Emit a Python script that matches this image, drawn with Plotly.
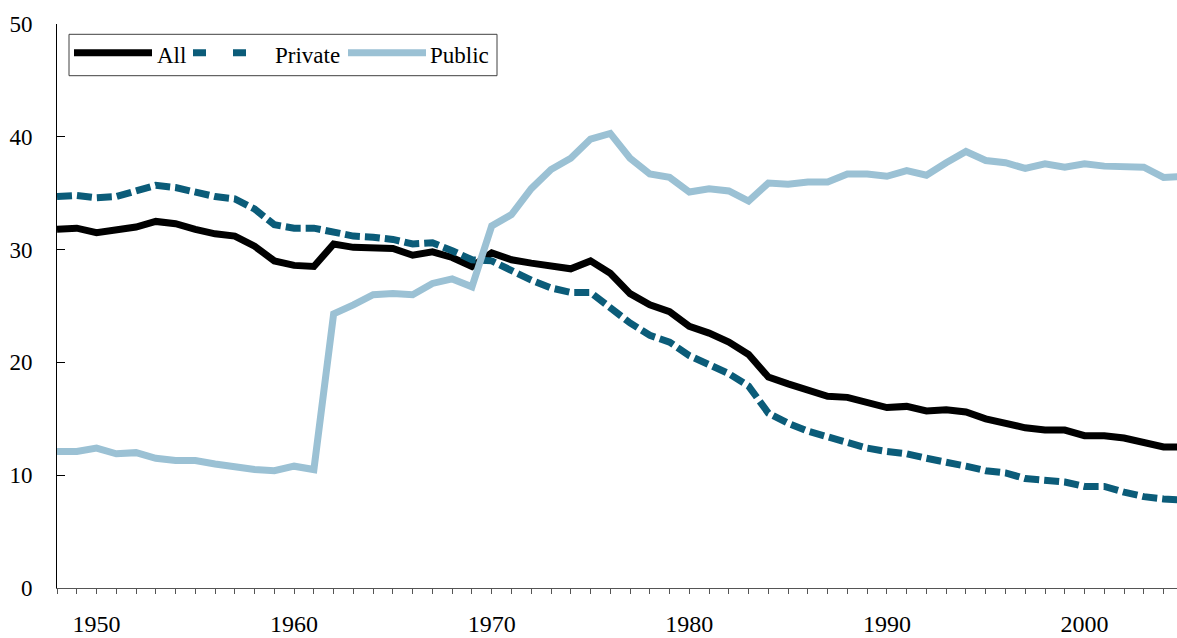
import plotly.graph_objects as go

years = list(range(1948, 2006))

all_share = [31.8, 31.9, 31.5, 31.7, 32.0, 32.5, 32.3, 31.8, 31.4, 31.2, 30.3, 29.0, 28.6, 28.5,
             30.5, 30.2, 30.2, 30.1, 29.5, 29.8, 29.3, 28.5, 29.7, 29.1, 28.8, 28.5, 28.3, 29.0,
             27.9, 26.1, 25.1, 24.5, 23.2, 22.6, 21.8, 20.7, 18.7, 18.1, 17.5, 17.0, 16.9, 16.4,
             16.0, 16.1, 15.7, 15.8, 15.6, 15.0, 14.6, 14.2, 14.0, 14.0, 13.5, 13.5, 13.3, 12.9,
             12.5, 12.5]

private_share = [34.7, 34.8, 34.6, 34.7, 35.2, 35.7, 35.5, 35.1, 34.7, 34.5, 33.6, 32.2, 31.9, 31.9,
                 31.5, 31.2, 31.1, 30.9, 30.5, 30.6, 29.9, 29.1, 29.0, 28.1, 27.3, 26.6, 26.2, 26.2,
                 24.9, 23.5, 22.4, 21.8, 20.6, 19.8, 19.0, 17.9, 15.5, 14.6, 13.9, 13.4, 12.9, 12.4,
                 12.1, 11.9, 11.5, 11.2, 10.8, 10.4, 10.2, 9.7, 9.6, 9.4, 9.0, 9.0, 8.5, 8.1,
                 7.9, 7.8]

public_share = [12.1, 12.1, 12.4, 11.9, 12.0, 11.5, 11.3, 11.3, 11.0, 10.7, 10.5, 10.4, 10.8, 10.5,
                24.3, 25.1, 26.0, 26.1, 26.0, 27.0, 27.4, 26.7, 32.1, 33.1, 35.4, 37.1, 38.1, 39.8,
                40.3, 38.1, 36.7, 36.4, 35.1, 35.4, 35.2, 34.3, 35.9, 35.8, 36.0, 36.0, 36.7, 36.7,
                36.5, 37.0, 36.6, 37.7, 38.7, 37.9, 37.7, 37.2, 37.6, 37.3, 37.6, 37.4, 37.4, 37.3,
                36.4, 36.5]

series_names = ["All", "Private", "Public"]
colors = {"All": "#000000", "Private": "#0B5C79", "Public": "#9BC1D4"}
dashes = {"All": "solid", "Private": "15px,5px", "Public": "solid"}
legend_dashes = {"All": "solid", "Private": "13px,27px", "Public": "solid"}

y_ticks = [0, 10, 20, 30, 40, 50]
x_ticks = [1950, 1960, 1970, 1980, 1990, 2000]

W, H = 1177, 638
ML, MR, MT, MB = 57, 0, 24, 50
PW, PH = W - ML - MR, H - MT - MB

def px_x(p):
    return (p - ML) / PW

def px_y(p):
    return (H - MB - p) / PH

fig = go.Figure()
values = {"All": all_share, "Private": private_share, "Public": public_share}
for name in series_names:
    fig.add_trace(go.Scatter(
        x=years, y=values[name], mode="lines", name=name,
        line=dict(color=colors[name], width=7, dash=dashes[name]),
        showlegend=False, hoverinfo="skip",
    ))

# custom legend (box, samples, labels)
shapes = [dict(type="rect", xref="paper", yref="paper",
               x0=px_x(69), x1=px_x(497), y0=px_y(75.7), y1=px_y(34.3),
               line=dict(color="#404040", width=1), fillcolor="white", layer="above")]
sample_x = {"All": (74, 152), "Private": (193, 271), "Public": (348, 426)}
label_x = {"All": 155, "Private": 273, "Public": 428}
annotations = []
for name in series_names:
    x0, x1 = sample_x[name]
    shapes.append(dict(type="line", xref="paper", yref="paper",
                       x0=px_x(x0), x1=px_x(x1), y0=px_y(52.8), y1=px_y(52.8),
                       line=dict(color=colors[name], width=7, dash=legend_dashes[name]),
                       layer="above"))
    annotations.append(dict(xref="paper", yref="paper", x=px_x(label_x[name]), y=px_y(55.5),
                            text=name, showarrow=False, xanchor="left", yanchor="middle",
                            font=dict(family="Liberation Serif", size=23, color="black")))

fig.update_layout(
    width=W, height=H,
    margin=dict(l=ML, r=MR, t=MT, b=MB),
    paper_bgcolor="white", plot_bgcolor="white",
    font=dict(family="Liberation Serif", size=24, color="black"),
    shapes=shapes, annotations=annotations,
    xaxis=dict(
        range=[1948, 1948 + PW / 19.76],
        tickvals=x_ticks, ticktext=[str(t) for t in x_ticks],
        ticks="outside", ticklen=5, tickcolor="#555555", tickwidth=1,
        minor=dict(ticks="outside", ticklen=5, dtick=1, tick0=1948, tickcolor="#555555"),
        showline=True, linecolor="#555555", linewidth=1,
        showgrid=False, zeroline=False, automargin=False,
        ticklabelstandoff=9,
        tickfont=dict(family="Liberation Serif", size=24, color="black"),
    ),
    yaxis=dict(
        range=[0, 50], tickvals=y_ticks,
        ticks="inside", ticklen=8, tickcolor="#000000", tickwidth=1,
        showline=True, linecolor="#000000", linewidth=1,
        showgrid=False, zeroline=False, automargin=False,
        ticklabelstandoff=19,
        tickfont=dict(family="Liberation Serif", size=23, color="black"),
    ),
)

fig.write_html(
    "out.html",
    config={"displayModeBar": False},
    post_script="document.body.style.margin='0';document.body.style.overflow='hidden';",
)
